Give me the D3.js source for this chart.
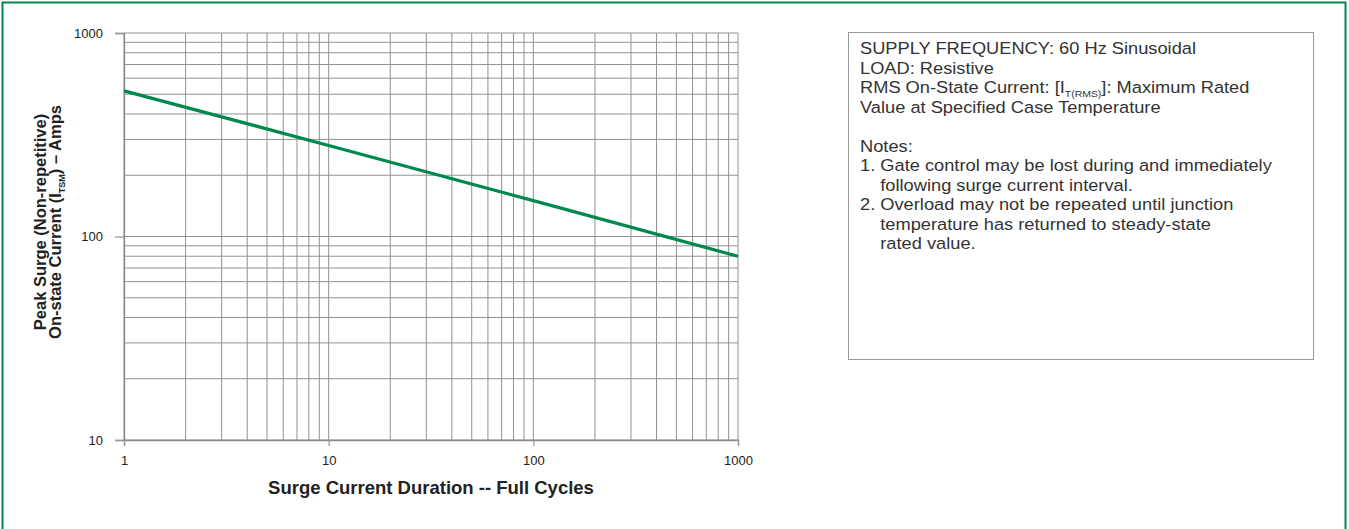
<!DOCTYPE html>
<html>
<head>
<meta charset="utf-8">
<script src="https://cdn.jsdelivr.net/npm/d3@7"></script>
<style>
  html, body { margin: 0; padding: 0; background: #fff; }
  svg { display: block; font-family: "Liberation Sans", Arial, Helvetica, sans-serif; }
</style>
</head>
<body>
<svg id="chart" width="1349" height="529"></svg>
<script>
// ---- data ----
const durations = [1, 10, 100, 1000];           // full cycles
const surgeAmps = [520, 280, 150, 80];           // peak surge current (A)
const xTickValues = [1, 10, 100, 1000];
const yTickValues = [10, 100, 1000];
const xTitle = "Surge Current Duration -- Full Cycles";
const yTitleLine1 = "Peak Surge (Non-repetitive)";
const yTitleLine2 = ["On-state Current (I", "TSM", ") – Amps"];
const infoLines = [
  ["SUPPLY FREQUENCY: 60 Hz Sinusoidal"],
  ["LOAD: Resistive"],
  ["RMS On-State Current: [I", "T(RMS)", "]: Maximum Rated"],
  ["Value at Specified Case Temperature"],
  [""],
  ["Notes:"],
  ["1. Gate control may be lost during and immediately"],
  ["    following surge current interval."],
  ["2. Overload may not be repeated until junction"],
  ["    temperature has returned to steady-state"],
  ["    rated value."]
];

// ---- layout ----
const svg = d3.select("#chart");
const green = "#00894F";
const gridColor = "#919191";

const x = d3.scaleLog().domain([1, 1000]).range([124, 738]);
const y = d3.scaleLog().domain([10, 1000]).range([440, 33]);

// outer frame (open at the bottom, cut off)
svg.append("rect")
  .attr("x", 2.5).attr("y", 2.5).attr("width", 1343).attr("height", 560)
  .attr("fill", "none").attr("stroke", green).attr("stroke-width", 2);

// grid values
function logGrid(lo, hi) {
  const out = [];
  for (let p = lo; p < hi; p *= 10) for (let m = 1; m < 10; m++) out.push(p * m);
  out.push(hi);
  return out;
}
const xGrid = logGrid(1, 1000);
const yGrid = logGrid(10, 1000);

const g = svg.append("g");
g.selectAll("line.vg").data(xGrid).join("line")
  .attr("class", "vg")
  .attr("x1", d => x(d)).attr("x2", d => x(d))
  .attr("y1", y(1000)).attr("y2", y(10))
  .attr("stroke", gridColor).attr("stroke-width", 1);
g.selectAll("line.hg").data(yGrid).join("line")
  .attr("class", "hg")
  .attr("x1", x(1)).attr("x2", x(1000))
  .attr("y1", d => y(d)).attr("y2", d => y(d))
  .attr("stroke", gridColor).attr("stroke-width", 1);

// axes
const fmt = d3.format("d");
const yAxis = svg.append("g").attr("transform", `translate(${x(1)},0)`)
  .call(d3.axisLeft(y).tickValues(yTickValues).tickFormat(fmt).tickSize(9).tickPadding(12));
const xAxis = svg.append("g").attr("transform", `translate(0,${y(10)})`)
  .call(d3.axisBottom(x).tickValues(xTickValues).tickFormat(fmt).tickSize(6).tickPadding(10));
[xAxis, yAxis].forEach(a => {
  a.select(".domain").attr("stroke", "#888").attr("stroke-width", 1.3);
  a.selectAll(".tick line").attr("stroke", "#999").attr("stroke-width", 1.3);
  a.selectAll(".tick text").attr("fill", "#222").style("font-size", "13px")
    .style("font-family", "'Liberation Sans', Arial, sans-serif");
});

// data line
const pts = durations.map((d, i) => [d, surgeAmps[i]]);
svg.append("path").datum(pts)
  .attr("fill", "none").attr("stroke", green).attr("stroke-width", 3.3)
  .attr("d", d3.line().x(d => x(d[0])).y(d => y(d[1])));

// x title
svg.append("text")
  .attr("x", (x(1) + x(1000)) / 2).attr("y", 494)
  .attr("text-anchor", "middle")
  .style("font-size", "18.5px").style("font-weight", "bold").attr("fill", "#222")
  .text(xTitle);

// y title
const yc = 222;
const yt = svg.append("g").attr("fill", "#222")
  .style("font-size", "16.5px").style("font-weight", "bold");
yt.append("text").attr("transform", `translate(46,${yc}) rotate(-90)`)
  .attr("text-anchor", "middle").text(yTitleLine1);
const t2 = yt.append("text").attr("transform", `translate(61,${yc}) rotate(-90)`)
  .attr("text-anchor", "middle");
t2.append("tspan").text(yTitleLine2[0]);
t2.append("tspan").attr("dy", 4).style("font-size", "9px").text(yTitleLine2[1]);
t2.append("tspan").attr("dy", -4).text(yTitleLine2[2]);

// info box
svg.append("rect")
  .attr("x", 848.5).attr("y", 32.5).attr("width", 465).attr("height", 327)
  .attr("fill", "none").attr("stroke", "#999").attr("stroke-width", 1);

const info = svg.append("g").attr("fill", "#333").style("font-size", "16.6px");
infoLines.forEach((parts, i) => {
  const t = info.append("text")
    .attr("transform", `translate(860,${54 + i * 19.5}) scale(1.1,1)`)
    .attr("xml:space", "preserve").style("white-space", "pre");
  if (parts.length === 1) {
    t.text(parts[0]);
  } else {
    t.append("tspan").text(parts[0]);
    t.append("tspan").attr("dy", 3.5).style("font-size", "9.5px").text(parts[1]);
    t.append("tspan").attr("dy", -3.5).text(parts[2]);
  }
});
</script>
</body>
</html>
